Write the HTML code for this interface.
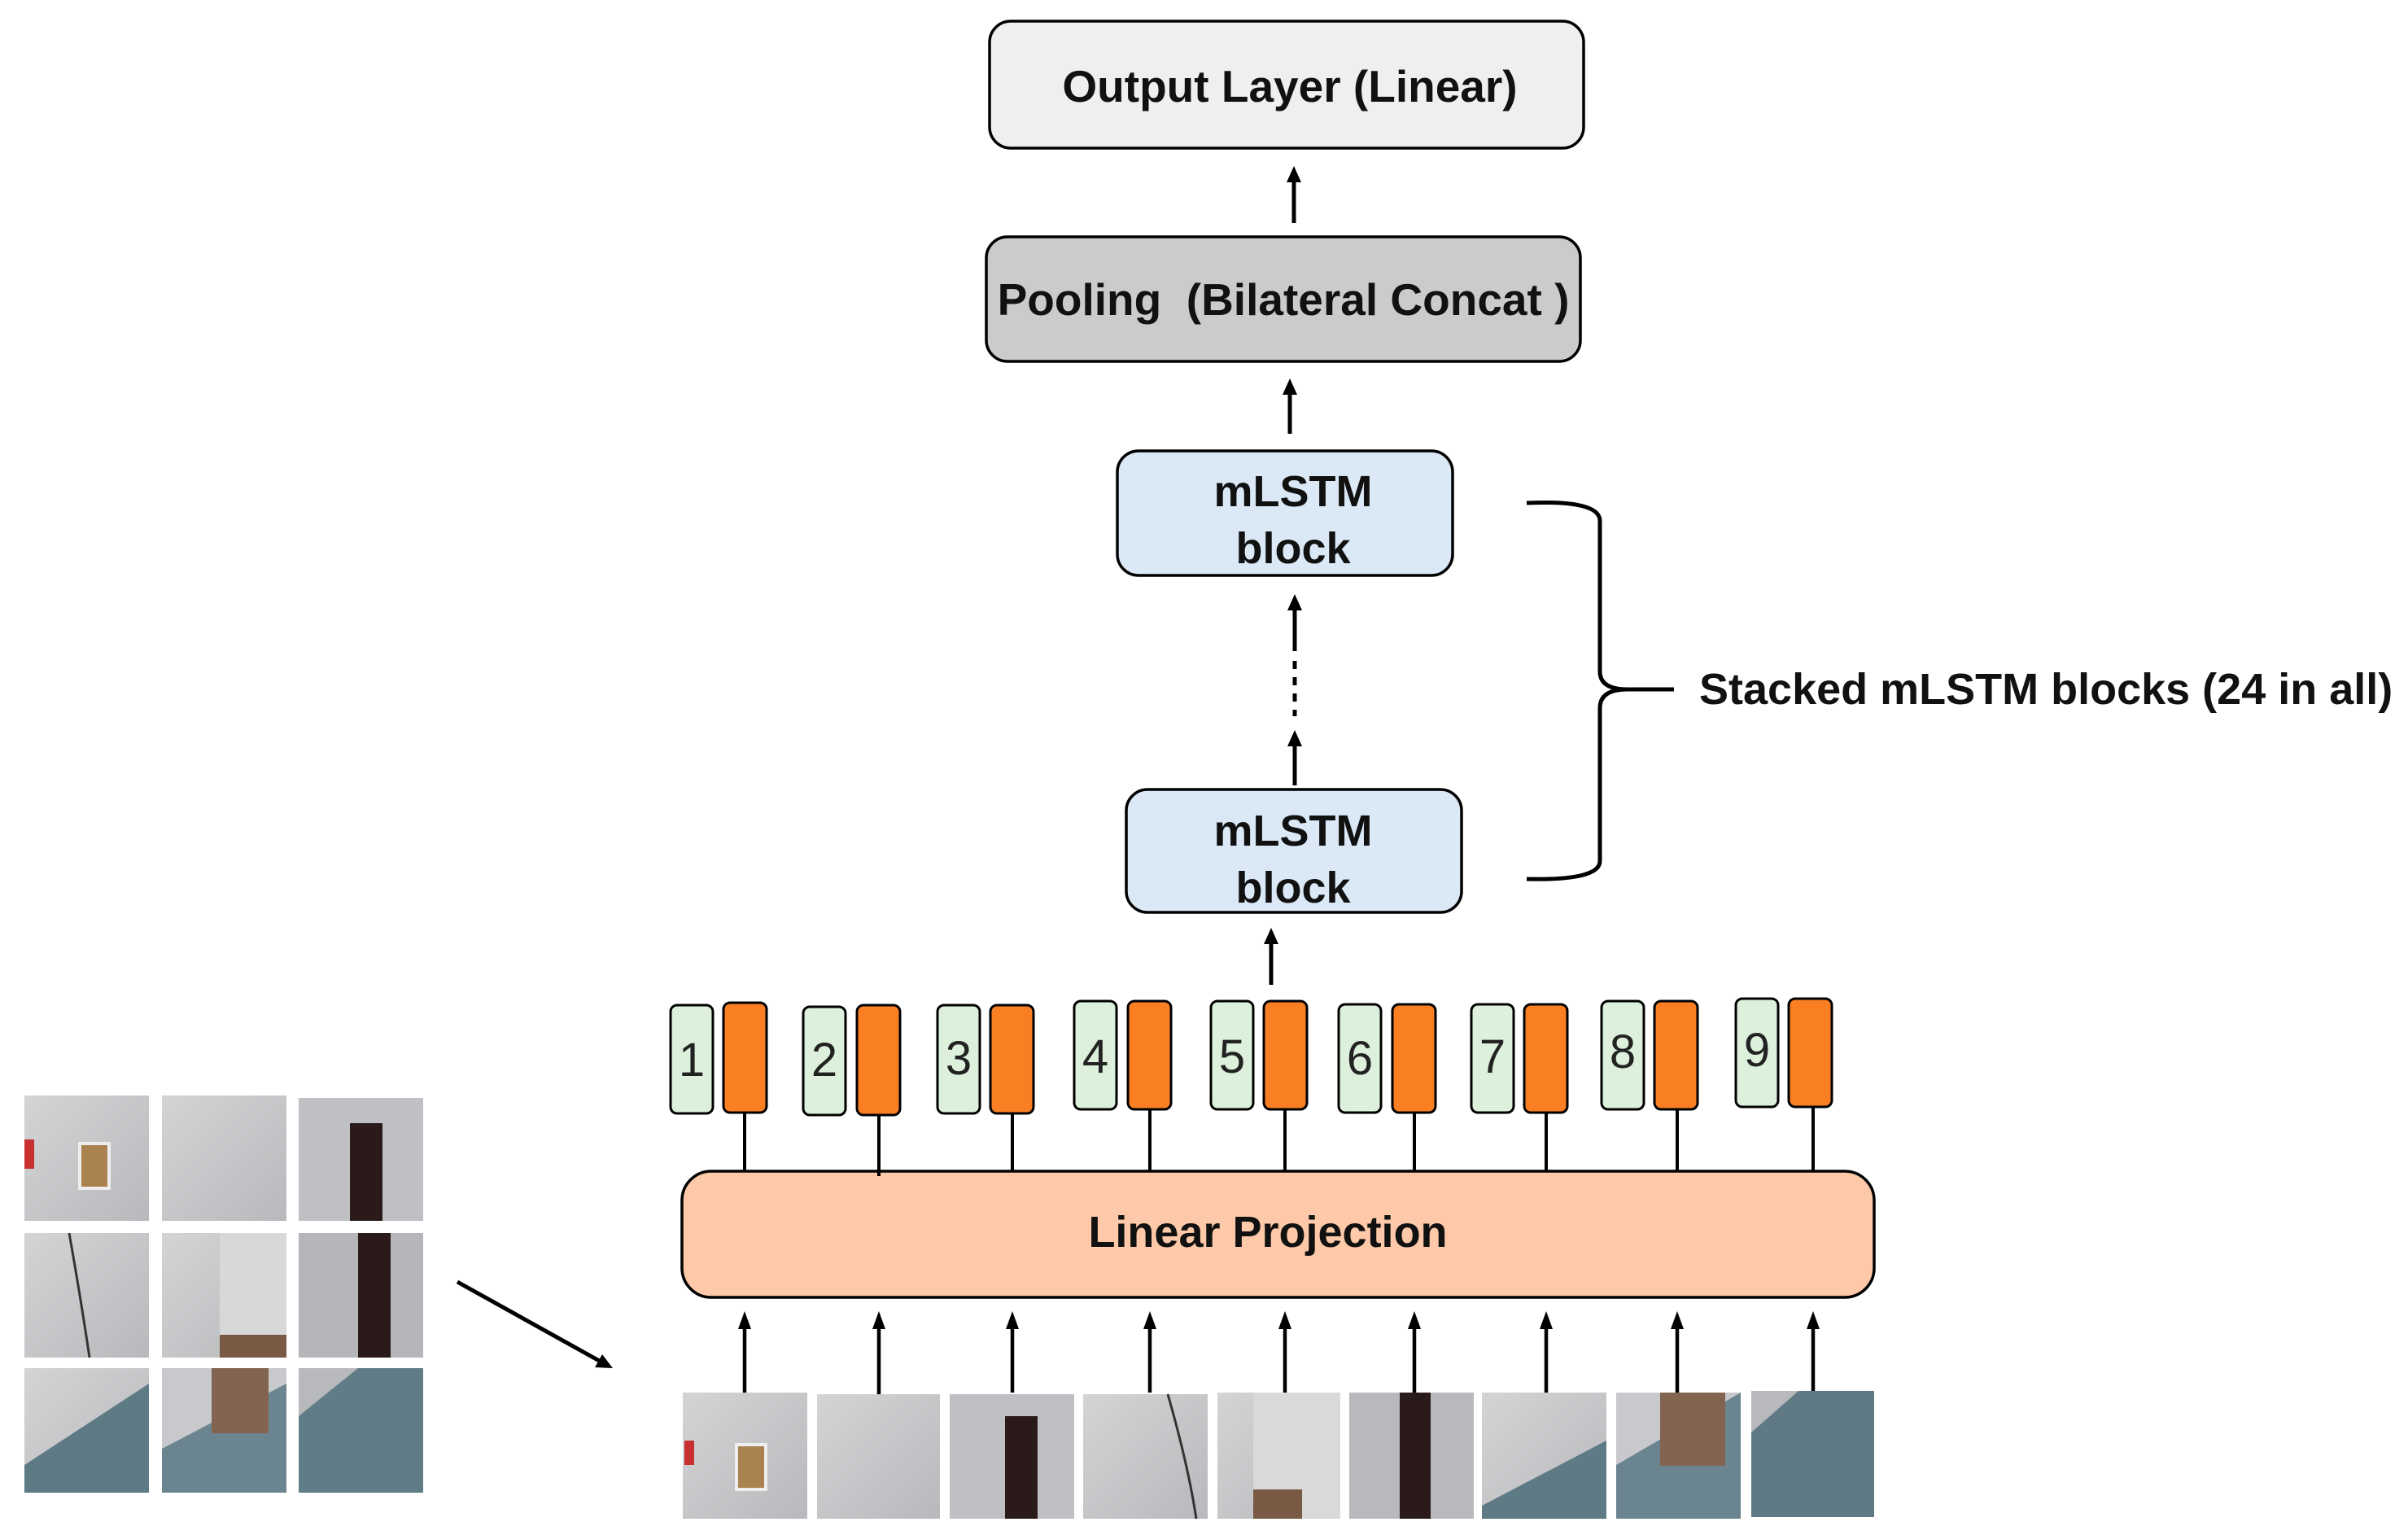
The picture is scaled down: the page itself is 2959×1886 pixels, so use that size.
<!DOCTYPE html>
<html><head><meta charset="utf-8"><style>
html,body{margin:0;padding:0;background:#fff;width:2959px;height:1886px;overflow:hidden}
text{font-family:"Liberation Sans",sans-serif;}
</style></head><body>
<svg width="2959" height="1886" viewBox="0 0 2959 1886" xmlns="http://www.w3.org/2000/svg">
<defs>
<linearGradient id="wall" x1="0" y1="0" x2="1" y2="1"><stop offset="0" stop-color="#d4d4d6"/><stop offset="1" stop-color="#b8b9bc"/></linearGradient>
</defs>
<g stroke="#000" stroke-width="3.5">
<rect x="1216" y="26" width="730" height="156" rx="26" fill="#efefef"/>
<rect x="1212" y="291" width="730" height="153" rx="26" fill="#cbcbcb"/>
<rect x="1373" y="554" width="412" height="153" rx="26" fill="#dbe9f6"/>
<rect x="1384" y="970" width="412" height="151" rx="26" fill="#dbe9f6"/>
<rect x="838" y="1439" width="1465" height="155" rx="36" fill="#fdc9a8"/>
</g>
<g font-weight="bold" fill="#111" text-anchor="middle">
<text x="1585" y="125" font-size="55">Output Layer (Linear)</text>
<text x="1577" y="387" font-size="55">Pooling&#160;&#160;(Bilateral Concat )</text>
<text x="1589" y="622" font-size="54">mLSTM</text>
<text x="1589" y="692" font-size="54">block</text>
<text x="1589" y="1039" font-size="54">mLSTM</text>
<text x="1589" y="1109" font-size="54">block</text>
<text x="1558" y="1532" font-size="54">Linear Projection</text>
<text x="2088" y="865" font-size="54" text-anchor="start">Stacked mLSTM blocks (24 in all)</text>
</g>
<g stroke="#000" stroke-width="5" fill="none">
<line x1="1590" y1="274" x2="1590" y2="222"/>
<line x1="1585" y1="533" x2="1585" y2="483"/>
<line x1="1591" y1="800" x2="1591" y2="748"/>
<line x1="1591" y1="812" x2="1591" y2="880" stroke-dasharray="10 10"/>
<line x1="1591" y1="965" x2="1591" y2="915"/>
<line x1="1562" y1="1210" x2="1562" y2="1158"/>
<path d="M1876 618 Q1966 614 1966 640 L1966 825 Q1966 847 2000 847 L2057 847 M2000 847 Q1966 847 1966 870 L1966 1058 Q1966 1082 1876 1080" stroke-width="5"/>
<line x1="562" y1="1575" x2="740" y2="1674"/>
</g>
<g fill="#000">
<polygon points="1590,204 1581,224 1599,224"/>
<polygon points="1585,465 1576,485 1594,485"/>
<polygon points="1591,730 1582,750 1600,750"/>
<polygon points="1591,897 1582,917 1600,917"/>
<polygon points="1562,1140 1553,1160 1571,1160"/>
<polygon points="753,1681 731,1680 740,1664"/>
</g>
<g stroke="#000" stroke-width="3">
<rect x="824" y="1235" width="52" height="133" rx="8" fill="#dcf0dc"/><rect x="889" y="1232" width="53" height="135" rx="8" fill="#fa7f23"/>
<rect x="987" y="1237" width="52" height="133" rx="8" fill="#dcf0dc"/><rect x="1053" y="1235" width="53" height="135" rx="8" fill="#fa7f23"/>
<rect x="1152" y="1235" width="52" height="133" rx="8" fill="#dcf0dc"/><rect x="1217" y="1235" width="53" height="133" rx="8" fill="#fa7f23"/>
<rect x="1320" y="1230" width="52" height="133" rx="8" fill="#dcf0dc"/><rect x="1386" y="1230" width="53" height="133" rx="8" fill="#fa7f23"/>
<rect x="1488" y="1230" width="52" height="133" rx="8" fill="#dcf0dc"/><rect x="1553" y="1230" width="53" height="133" rx="8" fill="#fa7f23"/>
<rect x="1645" y="1234" width="52" height="133" rx="8" fill="#dcf0dc"/><rect x="1711" y="1234" width="53" height="133" rx="8" fill="#fa7f23"/>
<rect x="1808" y="1234" width="52" height="133" rx="8" fill="#dcf0dc"/><rect x="1873" y="1234" width="53" height="133" rx="8" fill="#fa7f23"/>
<rect x="1968" y="1230" width="52" height="133" rx="8" fill="#dcf0dc"/><rect x="2033" y="1230" width="53" height="133" rx="8" fill="#fa7f23"/>
<rect x="2133" y="1227" width="52" height="133" rx="8" fill="#dcf0dc"/><rect x="2198" y="1227" width="53" height="133" rx="8" fill="#fa7f23"/>
</g>
<g font-size="58" fill="#222" text-anchor="middle">
<text x="850" y="1322">1</text><text x="1013" y="1322">2</text><text x="1178" y="1320">3</text><text x="1346" y="1318">4</text><text x="1514" y="1318">5</text><text x="1671" y="1320">6</text><text x="1834" y="1318">7</text><text x="1994" y="1312">8</text><text x="2159" y="1310">9</text>
</g>
<g stroke="#000" stroke-width="4">
<line x1="915" y1="1367" x2="915" y2="1439"/><line x1="1080" y1="1370" x2="1080" y2="1445"/><line x1="1244" y1="1368" x2="1244" y2="1439"/>
<line x1="1413" y1="1363" x2="1413" y2="1439"/><line x1="1579" y1="1363" x2="1579" y2="1439"/><line x1="1738" y1="1367" x2="1738" y2="1439"/>
<line x1="1900" y1="1367" x2="1900" y2="1439"/><line x1="2061" y1="1363" x2="2061" y2="1439"/><line x1="2228" y1="1360" x2="2228" y2="1439"/>
</g>
<g stroke="#000" stroke-width="4.5">
<line x1="915" y1="1711" x2="915" y2="1630"/><line x1="1080" y1="1715" x2="1080" y2="1630"/><line x1="1244" y1="1711" x2="1244" y2="1630"/>
<line x1="1413" y1="1711" x2="1413" y2="1630"/><line x1="1579" y1="1711" x2="1579" y2="1630"/><line x1="1738" y1="1711" x2="1738" y2="1630"/>
<line x1="1900" y1="1711" x2="1900" y2="1630"/><line x1="2061" y1="1711" x2="2061" y2="1630"/><line x1="2228" y1="1711" x2="2228" y2="1630"/>
</g>
<g fill="#000">
<polygon points="915,1611 907,1633 923,1633"/><polygon points="1080,1611 1072,1633 1088,1633"/><polygon points="1244,1611 1236,1633 1252,1633"/>
<polygon points="1413,1611 1405,1633 1421,1633"/><polygon points="1579,1611 1571,1633 1587,1633"/><polygon points="1738,1611 1730,1633 1746,1633"/>
<polygon points="1900,1611 1892,1633 1908,1633"/><polygon points="2061,1611 2053,1633 2069,1633"/><polygon points="2228,1611 2220,1633 2236,1633"/>
</g>
<g>
<rect x="30" y="1346" width="153" height="154" fill="url(#wall)"/>
<rect x="30" y="1400" width="12" height="36" fill="#c83030"/><rect x="98" y="1405" width="36" height="55" fill="#a9824f" stroke="#eee" stroke-width="4"/>
<rect x="199" y="1346" width="153" height="154" fill="url(#wall)"/>
<rect x="367" y="1349" width="153" height="151" fill="#bfc0c3"/><rect x="430" y="1380" width="40" height="120" fill="#2a1a1a"/>
<rect x="30" y="1515" width="153" height="153" fill="url(#wall)"/><path d="M85 1515 Q100 1600 110 1668" stroke="#333" stroke-width="3" fill="none"/>
<rect x="199" y="1515" width="153" height="153" fill="url(#wall)"/><rect x="270" y="1515" width="82" height="153" fill="#d8d8d8"/><rect x="270" y="1640" width="82" height="28" fill="#7a5a44"/>
<rect x="367" y="1515" width="153" height="153" fill="#b5b6ba"/><rect x="440" y="1515" width="40" height="153" fill="#2a1a1a"/>
<rect x="30" y="1681" width="153" height="153" fill="url(#wall)"/><polygon points="30,1834 30,1800 183,1700 183,1834" fill="#5e7a84"/>
<rect x="199" y="1681" width="153" height="153" fill="#6b8590"/><polygon points="199,1681 352,1681 352,1700 199,1780" fill="#c8c9cc"/><rect x="260" y="1681" width="70" height="80" fill="#826450"/>
<rect x="367" y="1681" width="153" height="153" fill="#607c86"/><polygon points="367,1681 440,1681 367,1740" fill="#b8b9bc"/>
</g>
<g>
<rect x="839" y="1711" width="153" height="155" fill="url(#wall)"/><rect x="841" y="1770" width="12" height="30" fill="#c83030"/><rect x="905" y="1775" width="36" height="55" fill="#a9824f" stroke="#eee" stroke-width="4"/>
<rect x="1004" y="1713" width="151" height="153" fill="url(#wall)"/>
<rect x="1167" y="1713" width="153" height="153" fill="#bfc0c3"/><rect x="1235" y="1740" width="40" height="126" fill="#2a1a1a"/>
<rect x="1331" y="1713" width="153" height="153" fill="url(#wall)"/><path d="M1435 1713 Q1460 1800 1470 1866" stroke="#333" stroke-width="3" fill="none"/>
<rect x="1496" y="1711" width="151" height="155" fill="url(#wall)"/><rect x="1540" y="1711" width="107" height="155" fill="#d9d9d9"/><rect x="1540" y="1830" width="60" height="36" fill="#7a5a44"/>
<rect x="1658" y="1711" width="153" height="155" fill="#b8b9bc"/><rect x="1720" y="1711" width="38" height="155" fill="#2a1a1a"/>
<rect x="1821" y="1711" width="153" height="155" fill="url(#wall)"/><polygon points="1821,1866 1821,1850 1974,1770 1974,1866" fill="#5e7a84"/>
<rect x="1986" y="1711" width="153" height="155" fill="#6b8590"/><polygon points="1986,1711 2139,1711 1986,1800" fill="#c8c9cc"/><rect x="2040" y="1711" width="80" height="90" fill="#826450"/>
<rect x="2152" y="1709" width="151" height="155" fill="#5f7a84"/><polygon points="2152,1709 2210,1709 2152,1760" fill="#b8b9bc"/>
</g>
</svg>
</body></html>
